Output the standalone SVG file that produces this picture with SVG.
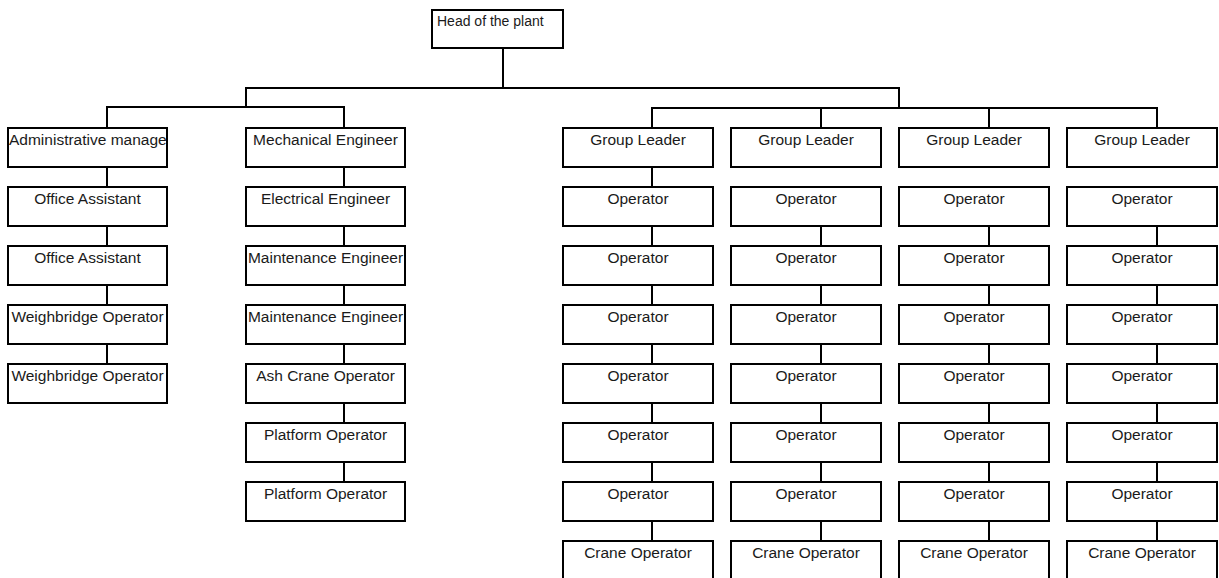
<svg xmlns="http://www.w3.org/2000/svg" width="1219" height="578" viewBox="0 0 1219 578">
<style>
  rect.box { fill: #ffffff; stroke: #000000; stroke-width: 2; }
  text { font-family: "Liberation Sans", Arial, sans-serif; font-size: 15.5px; fill: #1a1a1a; text-anchor: middle; }
  .conn line { stroke: #000000; stroke-width: 2; fill: none; }
</style>
<defs>
  <clipPath id="clipAdmin"><rect x="9" y="129" width="157" height="37"/></clipPath>
  <clipPath id="clipMaint1"><rect x="247" y="247" width="157" height="37"/></clipPath>
  <clipPath id="clipMaint2"><rect x="247" y="306" width="157" height="37"/></clipPath>
</defs>
<rect width="1219" height="578" fill="#ffffff"/>

<g id="connectors" class="conn">
  <line x1="503" y1="48" x2="503" y2="88"/>
  <line x1="245" y1="88" x2="900" y2="88"/>
  <line x1="246" y1="88" x2="246" y2="108"/>
  <line x1="899" y1="88" x2="899" y2="108"/>
  <line x1="106" y1="107" x2="345" y2="107"/>
  <line x1="107" y1="107" x2="107" y2="128"/>
  <line x1="344" y1="107" x2="344" y2="128"/>
  <line x1="651" y1="108" x2="1158" y2="108"/>
  <line x1="652" y1="108" x2="652" y2="128"/>
  <line x1="821" y1="108" x2="821" y2="128"/>
  <line x1="989" y1="108" x2="989" y2="128"/>
  <line x1="1157" y1="108" x2="1157" y2="128"/>
  <line x1="107" y1="167" x2="107" y2="187"/>
  <line x1="107" y1="226" x2="107" y2="246"/>
  <line x1="107" y1="285" x2="107" y2="305"/>
  <line x1="107" y1="344" x2="107" y2="364"/>
  <line x1="344" y1="167" x2="344" y2="187"/>
  <line x1="344" y1="226" x2="344" y2="246"/>
  <line x1="344" y1="285" x2="344" y2="305"/>
  <line x1="344" y1="344" x2="344" y2="364"/>
  <line x1="344" y1="403" x2="344" y2="423"/>
  <line x1="344" y1="462" x2="344" y2="482"/>
  <line x1="652" y1="167" x2="652" y2="187"/>
  <line x1="652" y1="226" x2="652" y2="246"/>
  <line x1="652" y1="285" x2="652" y2="305"/>
  <line x1="652" y1="344" x2="652" y2="364"/>
  <line x1="652" y1="403" x2="652" y2="423"/>
  <line x1="652" y1="462" x2="652" y2="482"/>
  <line x1="652" y1="521" x2="652" y2="541"/>
  <line x1="821" y1="226" x2="821" y2="246"/>
  <line x1="821" y1="285" x2="821" y2="305"/>
  <line x1="821" y1="344" x2="821" y2="364"/>
  <line x1="821" y1="403" x2="821" y2="423"/>
  <line x1="821" y1="462" x2="821" y2="482"/>
  <line x1="821" y1="521" x2="821" y2="541"/>
  <line x1="989" y1="226" x2="989" y2="246"/>
  <line x1="989" y1="285" x2="989" y2="305"/>
  <line x1="989" y1="344" x2="989" y2="364"/>
  <line x1="989" y1="403" x2="989" y2="423"/>
  <line x1="989" y1="462" x2="989" y2="482"/>
  <line x1="989" y1="521" x2="989" y2="541"/>
  <line x1="1157" y1="226" x2="1157" y2="246"/>
  <line x1="1157" y1="285" x2="1157" y2="305"/>
  <line x1="1157" y1="344" x2="1157" y2="364"/>
  <line x1="1157" y1="403" x2="1157" y2="423"/>
  <line x1="1157" y1="462" x2="1157" y2="482"/>
  <line x1="1157" y1="521" x2="1157" y2="541"/>
</g>

<g id="head"><rect class="box" x="432" y="10" width="131" height="38"/><text x="437" y="26" style="text-anchor:start;font-size:14px">Head of the plant</text></g>

<g id="admin"><rect class="box" x="8" y="128" width="159" height="39"/><text clip-path="url(#clipAdmin)" x="9" y="144.5" style="text-anchor:start">Administrative manager</text></g>
<g id="office1"><rect class="box" x="8" y="187" width="159" height="39"/><text x="87.5" y="203.5">Office Assistant</text></g>
<g id="office2"><rect class="box" x="8" y="246" width="159" height="39"/><text x="87.5" y="262.5">Office Assistant</text></g>
<g id="weigh1"><rect class="box" x="8" y="305" width="159" height="39"/><text x="87.5" y="321.5">Weighbridge Operator</text></g>
<g id="weigh2"><rect class="box" x="8" y="364" width="159" height="39"/><text x="87.5" y="380.5">Weighbridge Operator</text></g>

<g id="mech"><rect class="box" x="246" y="128" width="159" height="39"/><text x="325.5" y="144.5">Mechanical Engineer</text></g>
<g id="elec"><rect class="box" x="246" y="187" width="159" height="39"/><text x="325.5" y="203.5">Electrical Engineer</text></g>
<g id="maint1"><rect class="box" x="246" y="246" width="159" height="39"/><text clip-path="url(#clipMaint1)" x="325.5" y="262.5">Maintenance Engineer</text></g>
<g id="maint2"><rect class="box" x="246" y="305" width="159" height="39"/><text clip-path="url(#clipMaint2)" x="325.5" y="321.5">Maintenance Engineer</text></g>
<g id="ashcrane"><rect class="box" x="246" y="364" width="159" height="39"/><text x="325.5" y="380.5">Ash Crane Operator</text></g>
<g id="platform1"><rect class="box" x="246" y="423" width="159" height="39"/><text x="325.5" y="439.5">Platform Operator</text></g>
<g id="platform2"><rect class="box" x="246" y="482" width="159" height="39"/><text x="325.5" y="498.5">Platform Operator</text></g>

<g id="gl1"><rect class="box" x="563" y="128" width="150" height="39"/><text x="638" y="144.5">Group Leader</text></g>
<g id="gl2"><rect class="box" x="731" y="128" width="150" height="39"/><text x="806" y="144.5">Group Leader</text></g>
<g id="gl3"><rect class="box" x="899" y="128" width="150" height="39"/><text x="974" y="144.5">Group Leader</text></g>
<g id="gl4"><rect class="box" x="1067" y="128" width="150" height="39"/><text x="1142" y="144.5">Group Leader</text></g>

<g id="op1-1"><rect class="box" x="563" y="187" width="150" height="39"/><text x="638" y="203.5">Operator</text></g>
<g id="op1-2"><rect class="box" x="563" y="246" width="150" height="39"/><text x="638" y="262.5">Operator</text></g>
<g id="op1-3"><rect class="box" x="563" y="305" width="150" height="39"/><text x="638" y="321.5">Operator</text></g>
<g id="op1-4"><rect class="box" x="563" y="364" width="150" height="39"/><text x="638" y="380.5">Operator</text></g>
<g id="op1-5"><rect class="box" x="563" y="423" width="150" height="39"/><text x="638" y="439.5">Operator</text></g>
<g id="op1-6"><rect class="box" x="563" y="482" width="150" height="39"/><text x="638" y="498.5">Operator</text></g>
<g id="crane1"><rect class="box" x="563" y="541" width="150" height="39"/><text x="638" y="557.5">Crane Operator</text></g>

<g id="op2-1"><rect class="box" x="731" y="187" width="150" height="39"/><text x="806" y="203.5">Operator</text></g>
<g id="op2-2"><rect class="box" x="731" y="246" width="150" height="39"/><text x="806" y="262.5">Operator</text></g>
<g id="op2-3"><rect class="box" x="731" y="305" width="150" height="39"/><text x="806" y="321.5">Operator</text></g>
<g id="op2-4"><rect class="box" x="731" y="364" width="150" height="39"/><text x="806" y="380.5">Operator</text></g>
<g id="op2-5"><rect class="box" x="731" y="423" width="150" height="39"/><text x="806" y="439.5">Operator</text></g>
<g id="op2-6"><rect class="box" x="731" y="482" width="150" height="39"/><text x="806" y="498.5">Operator</text></g>
<g id="crane2"><rect class="box" x="731" y="541" width="150" height="39"/><text x="806" y="557.5">Crane Operator</text></g>

<g id="op3-1"><rect class="box" x="899" y="187" width="150" height="39"/><text x="974" y="203.5">Operator</text></g>
<g id="op3-2"><rect class="box" x="899" y="246" width="150" height="39"/><text x="974" y="262.5">Operator</text></g>
<g id="op3-3"><rect class="box" x="899" y="305" width="150" height="39"/><text x="974" y="321.5">Operator</text></g>
<g id="op3-4"><rect class="box" x="899" y="364" width="150" height="39"/><text x="974" y="380.5">Operator</text></g>
<g id="op3-5"><rect class="box" x="899" y="423" width="150" height="39"/><text x="974" y="439.5">Operator</text></g>
<g id="op3-6"><rect class="box" x="899" y="482" width="150" height="39"/><text x="974" y="498.5">Operator</text></g>
<g id="crane3"><rect class="box" x="899" y="541" width="150" height="39"/><text x="974" y="557.5">Crane Operator</text></g>

<g id="op4-1"><rect class="box" x="1067" y="187" width="150" height="39"/><text x="1142" y="203.5">Operator</text></g>
<g id="op4-2"><rect class="box" x="1067" y="246" width="150" height="39"/><text x="1142" y="262.5">Operator</text></g>
<g id="op4-3"><rect class="box" x="1067" y="305" width="150" height="39"/><text x="1142" y="321.5">Operator</text></g>
<g id="op4-4"><rect class="box" x="1067" y="364" width="150" height="39"/><text x="1142" y="380.5">Operator</text></g>
<g id="op4-5"><rect class="box" x="1067" y="423" width="150" height="39"/><text x="1142" y="439.5">Operator</text></g>
<g id="op4-6"><rect class="box" x="1067" y="482" width="150" height="39"/><text x="1142" y="498.5">Operator</text></g>
<g id="crane4"><rect class="box" x="1067" y="541" width="150" height="39"/><text x="1142" y="557.5">Crane Operator</text></g>
</svg>
